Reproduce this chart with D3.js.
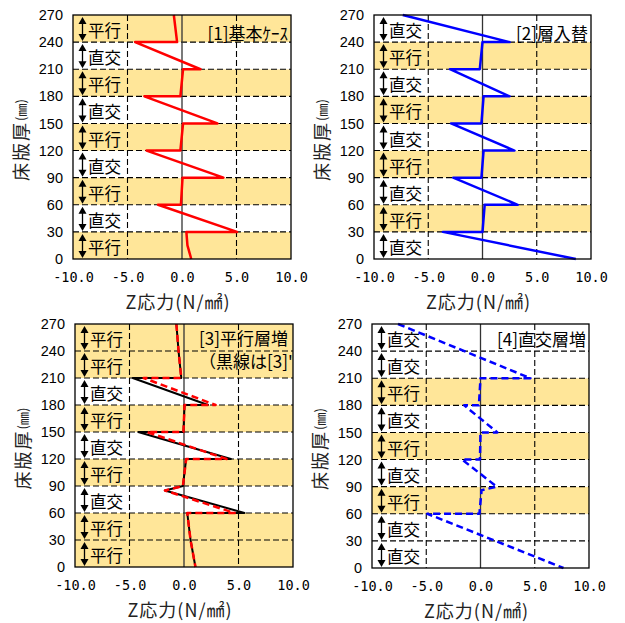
<!DOCTYPE html>
<html>
<head>
<meta charset="utf-8">
<script src="https://cdn.jsdelivr.net/npm/d3@7"></script>
<style>
body { margin: 0; background: #fff; }
</style>
</head>
<body>
<svg></svg>
<script>
const depthTicks = [0, 30, 60, 90, 120, 150, 180, 210, 240, 270];
const stressTicks = [-10, -5, 0, 5, 10];

// layer directions, from 0mm (bottom) to 270mm (top)
const layers1 = ["平行", "直交", "平行", "直交", "平行", "直交", "平行", "直交", "平行"];
const layers2 = ["直交", "平行", "直交", "平行", "直交", "平行", "直交", "平行", "直交"];
const layers3 = ["平行", "平行", "直交", "平行", "直交", "平行", "直交", "平行", "平行"];
const layers4 = ["直交", "直交", "平行", "直交", "平行", "直交", "平行", "直交", "直交"];

// [stress N/mm2, depth mm]
const case1 = [[-0.75, 270], [-0.45, 240], [-4.3, 240], [1.7, 210], [0.1, 210], [-0.15, 180],
  [-3.45, 180], [3.25, 150], [0.1, 150], [-0.15, 120], [-3.25, 120], [3.8, 90], [0.05, 90],
  [-0.1, 60], [-2.2, 60], [5.05, 30], [0.4, 30], [0.5, 15], [0.85, 0]];
const case2 = [[-7.35, 270], [2.5, 240], [0, 240], [-0.25, 210], [-3.0, 210], [2.5, 180],
  [0.1, 180], [-0.1, 150], [-2.9, 150], [2.95, 120], [0.1, 120], [-0.1, 90], [-2.7, 90],
  [3.25, 60], [0.2, 60], [0.0, 30], [-3.65, 30], [8.6, 0]];
const case3 = [[-0.7, 270], [-0.5, 240], [-0.25, 210], [-3.7, 210], [2.9, 180], [0.05, 180],
  [-0.05, 150], [-3.4, 150], [3.9, 120], [0.2, 120], [-0.1, 90], [-1.75, 85], [4.65, 60],
  [0.3, 60], [0.6, 30], [1.05, 0]];
const case3b = [[-0.7, 270], [-0.5, 240], [-0.25, 210], [-4.7, 210], [2.2, 180], [0.05, 180],
  [-0.05, 150], [-4.2, 150], [4.3, 120], [0.2, 120], [-0.1, 90], [-1.75, 85], [5.55, 60],
  [0.3, 60], [0.6, 30], [1.05, 0]];
const case4 = [[-7.6, 270], [4.6, 210], [0, 210], [-0.15, 180], [-1.5, 180], [1.55, 150],
  [0, 150], [-0.05, 120], [-1.7, 120], [1.5, 90], [0.1, 86], [-0.1, 60], [-4.9, 60], [7.65, 0]];

const titles = [["[1]基本ｹｰｽ"], ["[2]層入替"], ["[3]平行層増", "（黒線は[3]'）"], ["[4]直交層増"]];

const svg = d3.select("svg")
  .attr("width", 625)
  .attr("height", 623);

const panels = [
  { box: { x0: 73, x1: 291, y0: 15, y1: 259 }, layers: layers1, title: titles[0], align: "end", ty: 17,
    series: [{ data: case1, color: "#ff0000", dash: null }] },
  { box: { x0: 374, x1: 591, y0: 15, y1: 259 }, layers: layers2, title: titles[1], align: "end", ty: 17,
    series: [{ data: case2, color: "#0000ff", dash: null }] },
  { box: { x0: 75, x1: 293, y0: 324, y1: 567 }, layers: layers3, title: titles[2], align: "start", ty: 13,
    series: [{ data: case3b, color: "#000", dash: null, width: 2 }, { data: case3, color: "#ff0000", dash: "7,4" }] },
  { box: { x0: 372, x1: 589, y0: 324, y1: 568 }, layers: layers4, title: titles[3], align: "end", ty: 14,
    series: [{ data: case4, color: "#0000ff", dash: "7,4" }] }
];

panels.forEach((p, i) => drawPanel(p, i));

function drawPanel(p, i) {
  const b = p.box;
  const x = d3.scaleLinear().domain([-10, 10]).range([b.x0, b.x1]);
  const y = d3.scaleLinear().domain([0, 270]).range([b.y1, b.y0]);
  const g = svg.append("g");

  // layer bands
  g.selectAll("rect.band")
    .data(p.layers)
    .enter()
    .append("rect")
    .attr("x", b.x0)
    .attr("width", b.x1 - b.x0)
    .attr("y", (d, k) => y(30 * (k + 1)))
    .attr("height", (d, k) => y(30 * k) - y(30 * (k + 1)))
    .attr("fill", d => d === "平行" ? "#ffe699" : "#fff");

  // grid
  g.selectAll("line.hgrid")
    .data(depthTicks.slice(1, -1))
    .enter()
    .append("line")
    .attr("x1", b.x0).attr("x2", b.x1)
    .attr("y1", d => y(d)).attr("y2", d => y(d))
    .attr("stroke", "#000").attr("stroke-width", 1.1)
    .attr("stroke-dasharray", "6,3");

  g.selectAll("line.vgrid")
    .data([-5, 5])
    .enter()
    .append("line")
    .attr("x1", d => x(d)).attr("x2", d => x(d))
    .attr("y1", b.y0).attr("y2", b.y1)
    .attr("stroke", "#000").attr("stroke-width", 1.1)
    .attr("stroke-dasharray", "6,3");

  g.append("line")
    .attr("x1", x(0)).attr("x2", x(0))
    .attr("y1", b.y0).attr("y2", b.y1)
    .attr("stroke", "#333").attr("stroke-width", 1.3);

  // layer arrows and labels
  const ax = b.x0 + 9.5;
  p.layers.forEach((d, k) => {
    const top = y(30 * (k + 1)) + 2;
    const bot = y(30 * k) - 1;
    g.append("line")
      .attr("x1", ax).attr("x2", ax)
      .attr("y1", top + 5).attr("y2", bot - 5)
      .attr("stroke", "#000").attr("stroke-width", 1.3);
    g.append("path")
      .attr("d", `M${ax},${top}L${ax - 4},${top + 7}L${ax + 4},${top + 7}Z`)
      .attr("fill", "#000");
    g.append("path")
      .attr("d", `M${ax},${bot}L${ax - 4},${bot - 7}L${ax + 4},${bot - 7}Z`)
      .attr("fill", "#000");
    g.append("text")
      .attr("x", b.x0 + 15)
      .attr("y", (top + bot) / 2 + 1)
      .attr("dominant-baseline", "central")
      .attr("font-family", "Noto Sans CJK JP")
      .attr("font-size", 16.5)
      .attr("fill", "#000")
      .text(d);
  });

  // stress lines
  const line = d3.line().x(d => x(d[0])).y(d => y(d[1]));
  p.series.forEach(s => {
    g.append("path")
      .attr("d", line(s.data))
      .attr("fill", "none")
      .attr("stroke", s.color)
      .attr("stroke-width", s.width || 2.5)
      .attr("stroke-dasharray", s.dash)
      .attr("stroke-linejoin", "round");
  });

  // title in the corner, clipped to the plot
  const clipId = "clip" + i;
  svg.append("clipPath").attr("id", clipId)
    .append("rect")
    .attr("x", b.x0).attr("y", b.y0)
    .attr("width", b.x1 - b.x0).attr("height", b.y1 - b.y0);
  const tg = g.append("g").attr("clip-path", `url(#${clipId})`);
  p.title.forEach((t, k) => {
    tg.append("text")
      .attr("x", p.align === "end" ? b.x1 - 3 : b.x0 + 124)
      .attr("y", b.y0 + p.ty + k * 23)
      .attr("dominant-baseline", "central")
      .attr("text-anchor", p.align)
      .attr("font-family", "Noto Sans CJK JP")
      .attr("font-size", 17)
      .attr("fill", "#000")
      .text(t);
  });

  // frame
  g.append("rect")
    .attr("x", b.x0).attr("y", b.y0)
    .attr("width", b.x1 - b.x0).attr("height", b.y1 - b.y0)
    .attr("fill", "none")
    .attr("stroke", "#000").attr("stroke-width", 1.3);

  // axes
  const yAxis = g.append("g")
    .attr("transform", `translate(${b.x0},0)`)
    .call(d3.axisLeft(y).tickValues(depthTicks).tickSize(0).tickPadding(10));
  yAxis.select(".domain").remove();
  yAxis.selectAll("text")
    .attr("font-family", "Liberation Sans, Arial")
    .attr("font-size", 14.5)
    .attr("fill", "#000");

  const xAxis = g.append("g")
    .attr("transform", `translate(0,${b.y1})`)
    .call(d3.axisBottom(x).tickValues(stressTicks).tickSize(0).tickPadding(13)
      .tickFormat(d => d.toFixed(1)));
  xAxis.select(".domain").remove();
  xAxis.selectAll("text")
    .attr("font-family", "DejaVu Sans Mono")
    .attr("font-size", 13.5)
    .attr("fill", "#000");

  // axis titles
  const yt = g.append("text")
    .attr("transform", `translate(${b.x0 - 53},${(b.y0 + b.y1) / 2 + 3}) rotate(-90)`)
    .attr("text-anchor", "middle")
    .attr("dominant-baseline", "central")
    .attr("font-family", "Noto Sans CJK JP")
    .attr("fill", "#222");
  yt.append("tspan").attr("font-size", 18).attr("letter-spacing", 2).text("床版厚");
  yt.append("tspan").attr("font-size", 13).text("(㎜)");

  g.append("text")
    .attr("x", (b.x0 + b.x1) / 2 - 4)
    .attr("y", b.y1 + 42)
    .attr("text-anchor", "middle")
    .attr("dominant-baseline", "central")
    .attr("font-family", "Noto Sans CJK JP")
    .attr("font-size", 18)
    .attr("letter-spacing", 1)
    .attr("fill", "#222")
    .text("Z応力(N/㎟)");
}
</script>
</body>
</html>
